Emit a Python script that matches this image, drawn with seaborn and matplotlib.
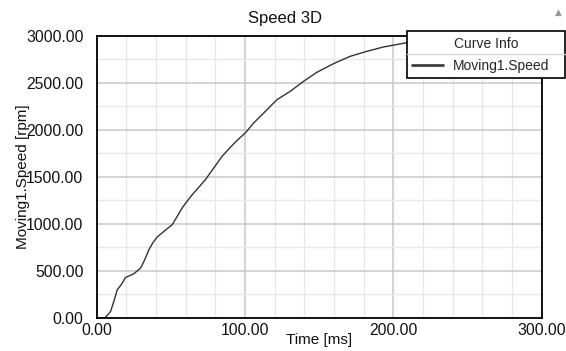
import matplotlib
matplotlib.use("Agg")
import matplotlib.pyplot as plt
from matplotlib.ticker import MultipleLocator, FormatStrFormatter
from matplotlib.lines import Line2D
import seaborn as sns

# values
time_ms = [0, 5.6, 7.5, 9.4, 11.5, 13.9, 16.5, 19.5, 22, 25.1, 29.6, 32.5, 35.2, 38,
           40.8, 45.3, 50.9, 54, 57.6, 61, 64.4, 69, 73.3, 78.9, 84.5, 92.4, 97,
           100.2, 105.8, 112.6, 121.5, 130.5, 139.4, 148.4, 159.6, 170.8, 182,
           193.3, 207.9, 220, 240, 260, 280, 300]
speed_rpm = [0, 0, 30, 67, 170, 298, 350, 429, 445, 468, 528, 620, 723, 800,
             858, 918, 989, 1070, 1167, 1240, 1308, 1390, 1468, 1592, 1716, 1851, 1920,
             1965, 2071, 2177, 2319, 2408, 2514, 2610, 2702, 2780, 2833,
             2880, 2922, 2945, 2970, 2985, 2993, 2997]

title = "Speed 3D"
x_label = "Time [ms]"
y_label = "Moving1.Speed [rpm]"
series_name = "Moving1.Speed"
legend_title = "Curve Info"


def main():
    sns.set_style("white")
    plt.rcParams["font.family"] = ["Liberation Sans", "DejaVu Sans"]

    fig = plt.figure(figsize=(5.66, 3.51), dpi=100)
    ax = fig.add_axes([0.1708, 0.0949, 0.7862, 0.8034])

    sns.lineplot(x=time_ms, y=speed_rpm, ax=ax, color="#333333", linewidth=1.0,
                 label=series_name, sort=False, estimator=None)

    ax.set_xlim(0, 300)
    ax.set_ylim(0, 3000)
    ax.xaxis.set_major_locator(MultipleLocator(100))
    ax.xaxis.set_minor_locator(MultipleLocator(20))
    ax.yaxis.set_major_locator(MultipleLocator(500))
    ax.yaxis.set_minor_locator(MultipleLocator(250))
    ax.xaxis.set_major_formatter(FormatStrFormatter("%.2f"))
    ax.yaxis.set_major_formatter(FormatStrFormatter("%.2f"))

    ax.grid(which="major", color="#c8c8c8", linewidth=1.1)
    ax.grid(which="minor", color="#e8e8e8", linewidth=1.0)
    ax.set_axisbelow(True)

    for side in ["left", "bottom", "top", "right"]:
        ax.spines[side].set_color("#000000")
        ax.spines[side].set_linewidth(1.3)

    ax.tick_params(axis="y", which="major", direction="out", length=6.5, width=1,
                   color="#000000", labelsize=11.3, pad=3, labelcolor="#111111")
    ax.tick_params(axis="y", which="minor", direction="out", length=4.3, width=1,
                   color="#000000")
    ax.tick_params(axis="x", which="major", direction="out", length=2.5, width=1,
                   color="#000000", labelsize=11.3, pad=1, labelcolor="#111111")
    ax.tick_params(axis="x", which="minor", direction="out", length=2.5, width=1,
                   color="#000000")

    ax.set_xlabel(x_label, fontsize=11, labelpad=-3, color="#111111")
    ax.set_ylabel(y_label, fontsize=11, labelpad=-3, color="#111111")

    fig.text(0.504, 0.947, title, ha="center", va="center", fontsize=12,
             color="#111111")
    fig.text(0.986, 0.964, "\u25b2", ha="center", va="center", fontsize=6.5,
             color="#999999", family="DejaVu Sans")

    leg = ax.legend(title=legend_title, loc="upper left",
                    bbox_to_anchor=(0.7186, 0.7786, 0.2797, 0.1331),
                    bbox_transform=fig.transFigure, mode="expand",
                    frameon=True, fancybox=False, edgecolor="#000000",
                    framealpha=1, fontsize=10, title_fontsize=10,
                    borderpad=0.4, handlelength=2.2, handletextpad=0.7,
                    labelspacing=0.6, borderaxespad=0)
    leg.get_frame().set_linewidth(1.2)
    leg.set_zorder(5)
    for line in leg.get_lines():
        line.set_linewidth(2.0)
        line.set_color("#404040")
    fig.add_artist(Line2D([0.7186, 0.9983], [0.8462, 0.8462], transform=fig.transFigure,
                          color="#d8d8d8", linewidth=1.0, zorder=10))

    fig.savefig("out.png", dpi=100)


if __name__ == "__main__":
    main()
